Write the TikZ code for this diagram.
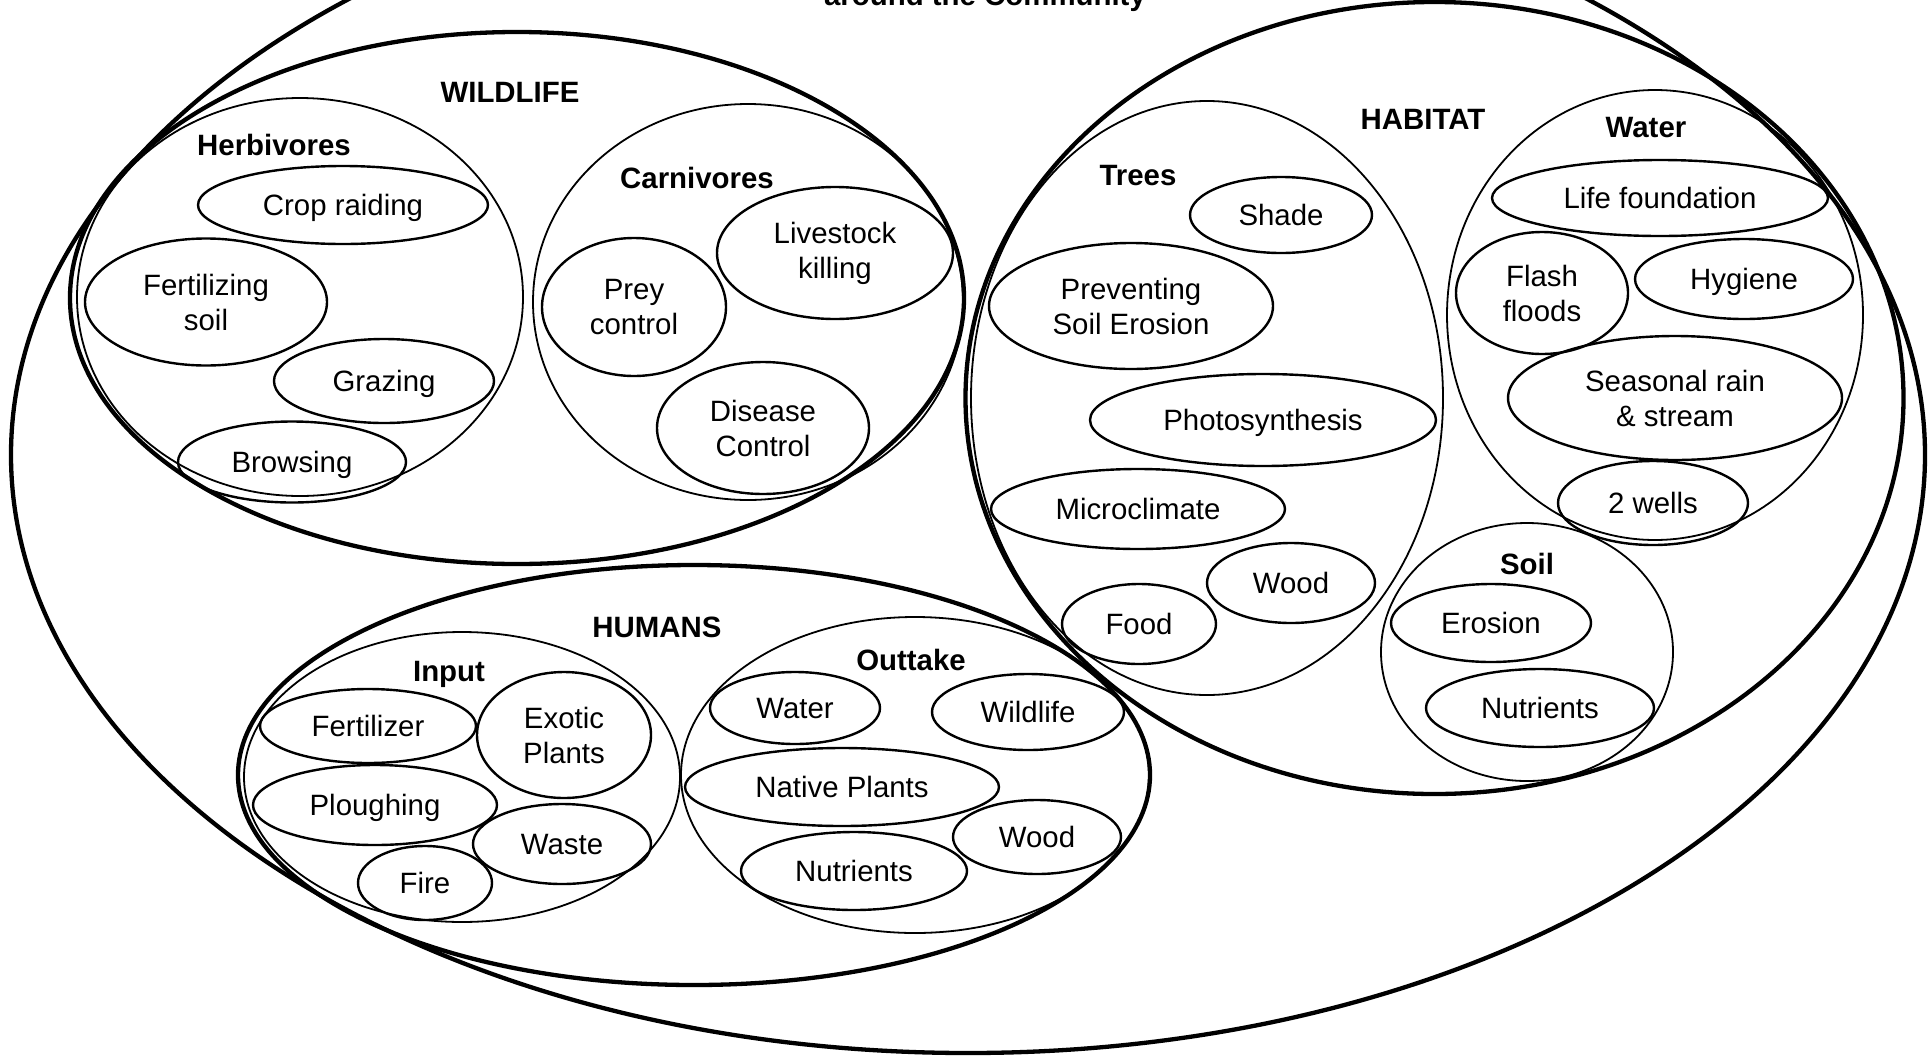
\documentclass[tikz,border=0pt]{standalone}
\usepackage{fontspec}
\setmainfont{Liberation Sans}
\usetikzlibrary{shapes.geometric}
\newcommand\leaffont{\fontsize{29.4}{35}\selectfont}
\newcommand\headfont{\fontsize{29.4}{35}\selectfont\bfseries}
\tikzset{
  wh/.style 2 args={minimum width=#1pt, minimum height=#2pt},
  realm/.style={draw, ellipse, line width=4.3pt, inner sep=0pt},
  group/.style={draw, ellipse, line width=1.8pt, inner sep=0pt},
  leaf/.style={draw, ellipse, line width=2.4pt, inner sep=0pt, align=center, font=\leaffont},
  one/.style={text height=21pt, text depth=0pt},
  heading/.style={font=\headfont, inner sep=0pt, text height=21pt, text depth=0pt},
}
\begin{document}
\begin{tikzpicture}[x=1pt, y=-1pt]
\useasboundingbox (0,0) rectangle (1928,1058);
\clip (0,0) rectangle (1928,1058);

% title, partly above the page edge
\node[font=\headfont, anchor=base, inner sep=0pt] (title) at (985,5) {around the Community};

% the community as a whole
\node[realm, wh={1914}{1196}] (community) at (968,455) {};

% three realms
\node[realm, wh={894}{532}] (wildlife) at (517,298) {};
\node[realm, wh={938}{792}] (habitat) at (1434.5,398) {};
\node[realm, wh={912}{420}] (humans) at (694,775) {};

\node[heading] (wildlifelbl) at (510,91.5) {WILDLIFE};
\node[heading] (habitatlbl) at (1423,119) {HABITAT};
\node[heading] (humanslbl) at (657,627) {HUMANS};

% wildlife
\node[group, wh={446}{398}] (herb) at (300,297) {};
\node[group, wh={430}{396}] (carn) at (748,302) {};
\node[heading] (herblbl) at (274,145) {Herbivores};
\node[heading] (carnlbl) at (697,177.5) {Carnivores};

\node[leaf, one, wh={290}{78}] (crop) at (343,205) {Crop raiding};
\node[leaf, wh={242}{127}] (fert) at (206,302) {Fertilizing\\soil};
\node[leaf, one, wh={220}{84}] (graz) at (384,381) {Grazing};
\node[leaf, one, wh={228}{81}] (brow) at (292,462) {Browsing};

\node[leaf, wh={184}{138}] (prey) at (634,307) {Prey\\control};
\node[leaf, wh={236}{132}] (live) at (835,253) {Livestock\\killing};
\node[leaf, wh={212}{132}] (dis) at (763,428) {Disease\\Control};

% habitat
\node[group, wh={472}{594}] (trees) at (1207,398) {};
\node[group, wh={416}{450}] (water) at (1655,315) {};
\node[group, wh={292}{258}] (soil) at (1527,652) {};
\node[heading] (treeslbl) at (1138,174.5) {Trees};
\node[heading] (waterlbl) at (1646,126.5) {Water};
\node[heading] (soillbl) at (1527,563.5) {Soil};

\node[leaf, one, wh={182}{76}] (shade) at (1281,215) {Shade};
\node[leaf, wh={284}{126}] (prev) at (1131,306) {Preventing\\Soil Erosion};
\node[leaf, one, wh={346}{92}] (photo) at (1263,420) {Photosynthesis};
\node[leaf, one, wh={294}{80}] (micro) at (1138,509) {Microclimate};
\node[leaf, one, wh={168}{80}] (twood) at (1291,583) {Wood};
\node[leaf, one, wh={154}{80}] (food) at (1139,624) {Food};

\node[leaf, one, wh={336}{76}] (life) at (1660,198) {Life foundation};
\node[leaf, wh={172}{122}] (flash) at (1542,293) {Flash\\floods};
\node[leaf, one, wh={218}{80}] (hyg) at (1744,279) {Hygiene};
\node[leaf, wh={334}{124}] (rain) at (1675,398) {Seasonal rain\\\& stream};
\node[leaf, one, wh={190}{84}] (wells) at (1653,503) {2 wells};

\node[leaf, one, wh={200}{78}] (eros) at (1491,623) {Erosion};
\node[leaf, one, wh={228}{78}] (snut) at (1540,708) {Nutrients};

% humans
\node[group, wh={436}{290}] (input) at (462,777) {};
\node[group, wh={468}{316}] (out) at (915,775) {};
\node[heading] (inputlbl) at (449,671) {Input};
\node[heading] (outlbl) at (911,660) {Outtake};

\node[leaf, one, wh={216}{74}] (fertz) at (368,726) {Fertilizer};
\node[leaf, wh={174}{126}] (exot) at (564,735) {Exotic\\Plants};
\node[leaf, one, wh={244}{80}] (plough) at (375,805) {Ploughing};
\node[leaf, one, wh={178}{80}] (waste) at (562,844) {Waste};
\node[leaf, one, wh={134}{74}] (fire) at (425,883) {Fire};

\node[leaf, one, wh={170}{72}] (owater) at (795,708) {Water};
\node[leaf, one, wh={192}{76}] (owild) at (1028,712) {Wildlife};
\node[leaf, one, wh={314}{78}] (native) at (842,787) {Native Plants};
\node[leaf, one, wh={168}{74}] (owood) at (1037,837) {Wood};
\node[leaf, one, wh={226}{78}] (onut) at (854,871) {Nutrients};
\end{tikzpicture}
\end{document}
